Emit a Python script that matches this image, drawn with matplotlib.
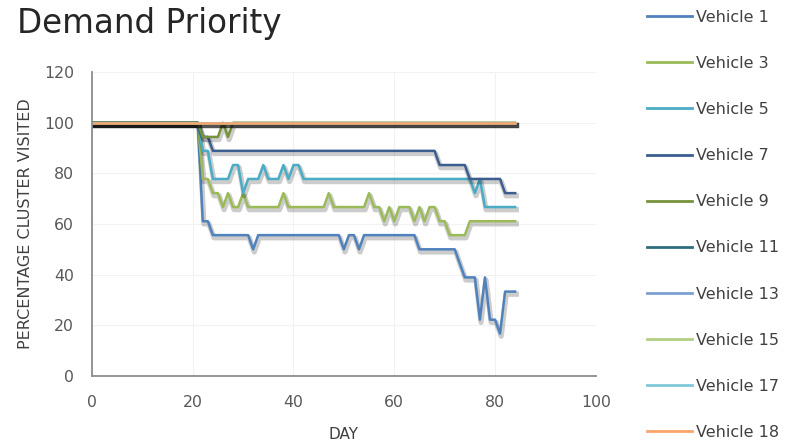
import numpy as np
import matplotlib
matplotlib.use("Agg")
import matplotlib.pyplot as plt
import matplotlib.patheffects as pe
from matplotlib.lines import Line2D

plt.rcParams['font.family'] = ['DejaVu Sans']

# days 0..84, values are % of 18 clusters visited
days = np.arange(0, 85)

def build(start, changes, end=84):
    # start value held until a change day, each change holds until the next one
    vals = []
    cur = start
    for d in range(0, end + 1):
        if d in changes:
            cur = changes[d]
        vals.append(cur)
    return vals

v1 = build(100, {22: 61.1, 24: 55.6, 32: 50, 33: 55.6, 50: 50, 51: 55.6, 53: 50, 54: 55.6,
                 65: 50, 73: 44.4, 74: 38.9, 77: 22.2, 78: 38.9, 79: 22.2, 81: 16.7, 82: 33.3})
v3 = build(100, {22: 77.8, 24: 72.2, 26: 66.7, 27: 72.2, 28: 66.7, 30: 72.2, 31: 66.7,
                 38: 72.2, 39: 66.7, 47: 72.2, 48: 66.7, 55: 72.2, 56: 66.7, 58: 61.1,
                 59: 66.7, 60: 61.1, 61: 66.7, 64: 61.1, 65: 66.7, 66: 61.1, 67: 66.7,
                 69: 61.1, 71: 55.6, 75: 61.1})
v5 = build(100, {22: 88.9, 24: 77.8, 28: 83.3, 30: 72.2, 31: 77.8, 34: 83.3, 35: 77.8,
                 38: 83.3, 39: 77.8, 40: 83.3, 42: 77.8, 76: 72.2, 77: 77.8, 78: 66.7})
v7 = build(100, {22: 94.4, 24: 88.9, 69: 83.3, 75: 77.8, 82: 72.2})
v9 = build(100, {22: 94.4, 26: 100, 27: 94.4, 28: 100})
v11 = build(100, {})
v13 = build(100, {})
v15 = build(100, {})
v17 = build(100, {})
v18 = build(100, {})

labels = ['Vehicle 1', 'Vehicle 3', 'Vehicle 5', 'Vehicle 7', 'Vehicle 9',
          'Vehicle 11', 'Vehicle 13', 'Vehicle 15', 'Vehicle 17', 'Vehicle 18']
series = [v1, v3, v5, v7, v9, v11, v13, v15, v17, v18]
colors = ['#4F81BD', '#9BBB59', '#4BACC6', '#3B5E8F', '#77933C',
          '#2F6E80', '#7D9FD3', '#B5CE85', '#80C8D8', '#F8A66C']

fig = plt.figure(figsize=(7.86, 4.48), dpi=100)
ax = fig.add_axes([0.117, 0.161, 0.641, 0.678])

shadow = [pe.SimpleLineShadow(offset=(0.8, -1.9), shadow_color='black', alpha=0.2, linewidth=3.8),
          pe.Normal()]
for vals, c in zip(series, colors):
    ax.plot(days, vals, color=c, lw=1.8, path_effects=shadow, solid_joinstyle='round')

ax.set_xlim(0, 100)
ax.set_ylim(0, 120)
ax.set_xticks(range(0, 101, 20))
ax.set_yticks(range(0, 121, 20))
ax.grid(True, color='#F2F2F2', lw=0.8)
ax.set_axisbelow(True)
for s in ['top', 'right']:
    ax.spines[s].set_visible(False)
for s in ['left', 'bottom']:
    ax.spines[s].set_color('#8C8C8C')
    ax.spines[s].set_linewidth(1.3)
ax.tick_params(length=0, labelsize=11.3, labelcolor='#595959')
ax.tick_params(axis='x', pad=14)
ax.tick_params(axis='y', pad=13)
ax.set_xlabel('DAY', fontsize=11, color='#404040', labelpad=12)
ax.set_ylabel('PERCENTAGE CLUSTER VISITED', fontsize=11.5, color='#404040', labelpad=8)

fig.text(17 / 786, 1 - 33 / 448, 'Demand Priority', fontsize=23.5, color='#262626',
         va='baseline')

handles = [Line2D([], [], color=c, lw=2) for c in colors]
fig.legend(handles, labels, loc='center left', bbox_to_anchor=(0.823, 0.498), frameon=False,
           fontsize=11.5, labelspacing=1.95, handlelength=2.8, handletextpad=0.3,
           borderpad=0, borderaxespad=0, labelcolor='#404040')

fig.savefig('out.png', dpi=100)
